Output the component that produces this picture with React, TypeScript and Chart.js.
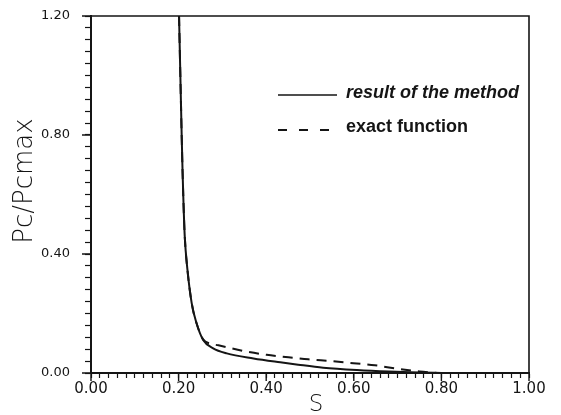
import React, { useEffect, useRef } from "react";
import { Chart, registerables } from "chart.js";

Chart.register(...registerables);

// Saturation S and capillary pressure ratio Pc/Pcmax
const methodS = [0.201, 0.204, 0.207, 0.209, 0.211, 0.214, 0.220, 0.230, 0.241, 0.256, 0.279, 0.310, 0.371, 0.432, 0.473, 0.530, 0.607, 0.680, 0.750, 0.800];
const methodP = [1.20, 1.00, 0.80, 0.68, 0.58, 0.46, 0.35, 0.234, 0.167, 0.111, 0.083, 0.066, 0.049, 0.036, 0.028, 0.018, 0.010, 0.005, 0.002, 0.000];

const exactS = [0.201, 0.204, 0.207, 0.209, 0.211, 0.214, 0.220, 0.230, 0.241, 0.256, 0.272, 0.291, 0.348, 0.401, 0.451, 0.496, 0.550, 0.599, 0.648, 0.700, 0.750, 0.790];
const exactP = [1.20, 1.00, 0.80, 0.68, 0.58, 0.46, 0.35, 0.234, 0.167, 0.113, 0.099, 0.093, 0.074, 0.061, 0.053, 0.046, 0.040, 0.033, 0.026, 0.014, 0.005, 0.000];

const seriesNames = ["result of the method", "exact function"];
const xTitle = "S";
const yTitle = "Pc/Pcmax";
const xMajorTicks = [0, 0.2, 0.4, 0.6, 0.8, 1.0];
const yMajorTicks = [0, 0.4, 0.8, 1.2];

const INK = "#151515";

const decorPlugin = {
  id: "decor",
  afterDraw(chart: any) {
    const { ctx, chartArea } = chart;
    const xs = chart.scales.x;
    const ys = chart.scales.y;
    ctx.save();
    ctx.strokeStyle = INK;
    // top and right frame
    ctx.lineWidth = 1.6;
    ctx.beginPath();
    ctx.moveTo(chartArea.left, chartArea.top);
    ctx.lineTo(chartArea.right, chartArea.top);
    ctx.lineTo(chartArea.right, chartArea.bottom);
    ctx.stroke();
    // longer major ticks
    ctx.lineWidth = 1.4;
    ctx.beginPath();
    for (const v of xMajorTicks) {
      const px = xs.getPixelForValue(v);
      ctx.moveTo(px, chartArea.bottom);
      ctx.lineTo(px, chartArea.bottom + 8);
    }
    for (const v of yMajorTicks) {
      const py = ys.getPixelForValue(v);
      ctx.moveTo(chartArea.left, py);
      ctx.lineTo(chartArea.left - 9, py);
    }
    ctx.stroke();

    // legend
    ctx.lineWidth = 1.6;
    ctx.beginPath();
    ctx.setLineDash([]);
    ctx.moveTo(278, 95);
    ctx.lineTo(337, 95);
    ctx.stroke();
    ctx.beginPath();
    ctx.setLineDash([9, 12]);
    ctx.lineWidth = 2;
    ctx.moveTo(278, 130);
    ctx.lineTo(334, 130);
    ctx.stroke();
    ctx.setLineDash([]);
    ctx.fillStyle = INK;
    ctx.textAlign = "left";
    ctx.textBaseline = "alphabetic";
    ctx.font = "italic bold 18px 'Liberation Sans', Arial, sans-serif";
    ctx.fillText(seriesNames[0], 346, 98);
    ctx.font = "bold 18px 'Liberation Sans', Arial, sans-serif";
    ctx.fillText(seriesNames[1], 346, 132);

    // axis titles
    ctx.textAlign = "center";
    ctx.textBaseline = "middle";
    ctx.font = "200 26px 'DejaVu Sans', sans-serif";
    ctx.save();
    ctx.translate(25, 181);
    ctx.rotate(-Math.PI / 2);
    ctx.fillText(yTitle, 0, 0);
    ctx.restore();
    ctx.font = "200 23px 'DejaVu Sans', sans-serif";
    ctx.fillText(xTitle, 316, 405);
    ctx.restore();
  },
};

export default function App() {
  const ref = useRef<HTMLCanvasElement | null>(null);

  useEffect(() => {
    document.body.style.margin = "0";
    const canvas = ref.current;
    if (!canvas) return;
    const chart = new Chart(canvas, {
      type: "scatter",
      data: {
        datasets: [
          {
            label: seriesNames[0],
            data: methodS.map((s, i) => ({ x: s, y: methodP[i] })),
            showLine: true,
            borderColor: INK,
            borderWidth: 2,
            pointRadius: 0,
            cubicInterpolationMode: "monotone",
          },
          {
            label: seriesNames[1],
            data: exactS.map((s, i) => ({ x: s, y: exactP[i] })),
            showLine: true,
            borderColor: INK,
            borderWidth: 2,
            borderDash: [10, 7],
            pointRadius: 0,
            cubicInterpolationMode: "monotone",
          },
        ],
      },
      options: {
        responsive: false,
        animation: false,
        events: [],
        layout: { padding: { top: 16, right: 32, left: 0, bottom: 0 } },
        plugins: { legend: { display: false }, tooltip: { enabled: false } },
        scales: {
          x: {
            type: "linear",
            min: 0,
            max: 1,
            afterFit: (scale: any) => {
              scale.height = 42;
            },
            border: { display: true, color: INK, width: 2 },
            grid: { display: true, drawOnChartArea: false, drawTicks: true, tickLength: 5, tickColor: INK, tickWidth: 1.2 },
            ticks: {
              stepSize: 0.02,
              autoSkip: false,
              maxTicksLimit: 200,
              maxRotation: 0,
              padding: 2,
              color: INK,
              font: { family: "'DejaVu Sans', sans-serif", size: 15 },
              callback: (v: any) => {
                const r = Math.round(Number(v) * 100);
                return r % 20 === 0 ? (r / 100).toFixed(2) : "";
              },
            },
          },
          y: {
            type: "linear",
            min: 0,
            max: 1.2,
            afterFit: (scale: any) => {
              scale.width = 91;
              scale.paddingTop = 8;
              scale.paddingBottom = 8;
            },
            border: { display: true, color: INK, width: 2 },
            grid: { display: true, drawOnChartArea: false, drawTicks: true, tickLength: 6, tickColor: INK, tickWidth: 1.2 },
            ticks: {
              stepSize: 0.04,
              autoSkip: false,
              maxTicksLimit: 200,
              padding: 15,
              color: INK,
              font: { family: "'DejaVu Sans', sans-serif", size: 13 },
              callback: (v: any) => {
                const r = Math.round(Number(v) * 100);
                return r % 40 === 0 ? (r / 100).toFixed(2) : "";
              },
            },
          },
        },
      },
      plugins: [decorPlugin],
    });
    return () => chart.destroy();
  }, []);

  return <canvas ref={ref} width={561} height={415} style={{ display: "block" }} />;
}
